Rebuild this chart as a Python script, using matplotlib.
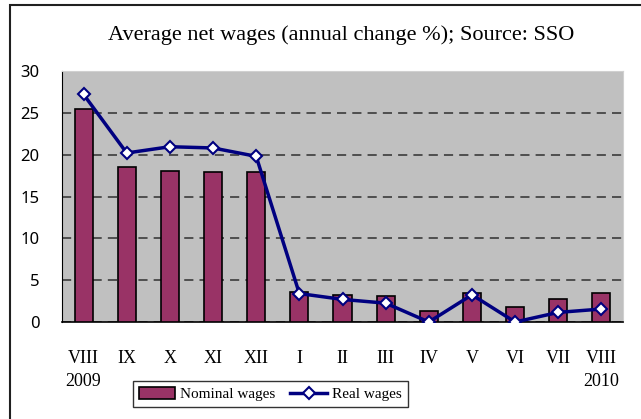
import numpy as np
import matplotlib.pyplot as plt
from matplotlib.patches import Rectangle

# Данные: месяцы и годовое изменение зарплат, %
months = ['VIII\n2009', 'IX', 'X', 'XI', 'XII', 'I', 'II', 'III', 'IV', 'V', 'VI', 'VII', 'VIII\n2010']
nominal = [25.5, 18.5, 18.1, 17.9, 17.9, 3.6, 3.25, 3.05, 1.35, 3.45, 1.75, 2.7, 3.45]
real = [27.2, 20.2, 20.95, 20.8, 19.8, 3.4, 2.7, 2.25, 0.0, 3.25, 0.0, 1.15, 1.55]

serif = 'Liberation Serif'

fig = plt.figure(figsize=(6.41, 4.19), dpi=100)
ax = fig.add_axes([62 / 641, 1 - 322 / 419, 561 / 641, 251 / 419])

x = np.arange(len(months))
bars = ax.bar(x, nominal, width=0.42, color='#993366', edgecolor='black', linewidth=1.2,
              label='Nominal wages', zorder=3)
line, = ax.plot(x, real, color='#000080', linewidth=2.5, marker='D', markersize=6.5,
                markerfacecolor='white', markeredgecolor='#000080', markeredgewidth=1.5,
                label='Real wages', zorder=4)

ax.set_facecolor('#C0C0C0')
ax.set_xlim(-0.5, len(months) - 0.5)
ax.set_ylim(0, 30)
ax.set_yticks(range(0, 31, 5))
ax.yaxis.grid(True, linestyle=(0, (6, 4)), color='#303030', linewidth=1.1, zorder=0)
ax.set_axisbelow(True)

ax.set_xticks(x)
ax.set_xticklabels(months, fontfamily=serif, fontsize=13, linespacing=1.45)
for lbl in ax.get_yticklabels():
    lbl.set_fontfamily('Noto Sans')
    lbl.set_fontsize(12)
ax.tick_params(axis='x', length=0, pad=20)
ax.tick_params(axis='y', length=0, pad=16)

for s in ['top', 'right']:
    ax.spines[s].set_color('#D0D0D0')
ax.spines['left'].set_color('black')
ax.spines['bottom'].set_color('black')
ax.spines['bottom'].set_linewidth(1.2)

fig.text(341 / 641, 1 - 35 / 419, 'Average net wages (annual change %); Source: SSO',
         ha='center', va='center', fontfamily=serif, fontsize=16)

leg = ax.legend([bars, line], ['Nominal wages', 'Real wages'], loc='center',
                bbox_to_anchor=(270 / 641, 1 - 394 / 419),
                bbox_transform=fig.transFigure, ncol=2, frameon=True, fancybox=False,
                prop={'family': serif, 'size': 11}, handlelength=2.4, handleheight=0.9,
                columnspacing=1.0, borderpad=0.4, handletextpad=0.3, borderaxespad=0)
leg.get_frame().set_edgecolor('black')
leg.get_frame().set_linewidth(1.0)

# рамка вокруг всего графика
fig.patches.append(Rectangle((10 / 641, -0.1), 1.2, 1 - 5 / 419 + 0.1,
                             transform=fig.transFigure, fill=False,
                             edgecolor='#202020', linewidth=1.5))

fig.savefig('out.png', dpi=100)
